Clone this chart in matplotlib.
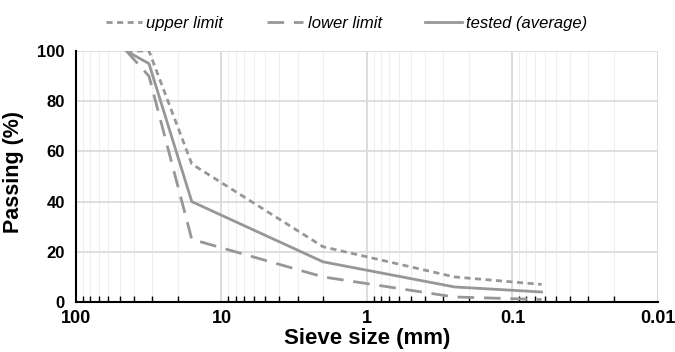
import matplotlib.pyplot as plt
from matplotlib.ticker import LogLocator, NullFormatter, FixedLocator, FixedFormatter

plt.rcParams['font.family'] = ['Liberation Sans', 'DejaVu Sans']

sieve = [45, 31.5, 16, 2, 0.25, 0.063]
upper = [100, 100, 55, 22, 10, 7]
lower = [100, 90, 25, 10, 2, 1]
tested = [100, 95, 40, 16, 6, 4]

xticks = [100, 10, 1, 0.1, 0.01]
xticklabels = ['100', '10', '1', '0.1', '0.01']
yticks = [0, 20, 40, 60, 80, 100]

grey = '#979797'

fig = plt.figure(figsize=(6.75, 3.52), dpi=100)
ax = fig.add_axes([0.1126, 0.142, 0.862, 0.713])

ax.plot(sieve, upper, color=grey, lw=2, dashes=(2.2, 1.6), label='upper limit')
ax.plot(sieve, lower, color=grey, lw=2, dashes=(6, 3.5), label='lower limit')
ax.plot(sieve, tested, color=grey, lw=2, label='tested (average)')

ax.set_xscale('log')
ax.set_xlim(100, 0.01)
ax.set_ylim(0, 100)

ax.xaxis.set_major_locator(FixedLocator(xticks))
ax.xaxis.set_major_formatter(FixedFormatter(xticklabels))
ax.xaxis.set_minor_locator(LogLocator(base=10, subs=range(2, 10)))
ax.xaxis.set_minor_formatter(NullFormatter())
ax.set_yticks(yticks)

ax.tick_params(axis='x', which='major', length=0, pad=6, labelsize=13)
ax.tick_params(axis='x', which='minor', direction='in', length=4, width=1, color='black')
ax.tick_params(axis='y', length=0, pad=8, labelsize=12)
for lab in ax.get_xticklabels() + ax.get_yticklabels():
    lab.set_fontweight('bold')

ax.grid(True, which='major', axis='x', color='#d9d9d9', lw=1.3)
ax.grid(True, which='minor', axis='x', color='#eeeeee', lw=0.8)
ax.grid(True, which='major', axis='y', color='#dcdcdc', lw=1.3)
ax.set_axisbelow(True)

for s in ['top', 'right']:
    ax.spines[s].set_visible(False)
for s in ['left', 'bottom']:
    ax.spines[s].set_color('black')
    ax.spines[s].set_linewidth(1.5)

ax.set_xlabel('Sieve size (mm)', fontsize=16, fontweight='bold', labelpad=0.5)
ax.set_ylabel('Passing (%)', fontsize=15.5, fontweight='bold', labelpad=6)
ax.yaxis.set_label_coords(-0.09, 0.52)

leg = fig.legend(loc='upper center', bbox_to_anchor=(0.513, 0.997), ncol=3, frameon=False,
                 prop={'style': 'italic', 'size': 12}, handlelength=2.2, handletextpad=0.25,
                 columnspacing=2.6)

fig.savefig('out.png', dpi=100)
